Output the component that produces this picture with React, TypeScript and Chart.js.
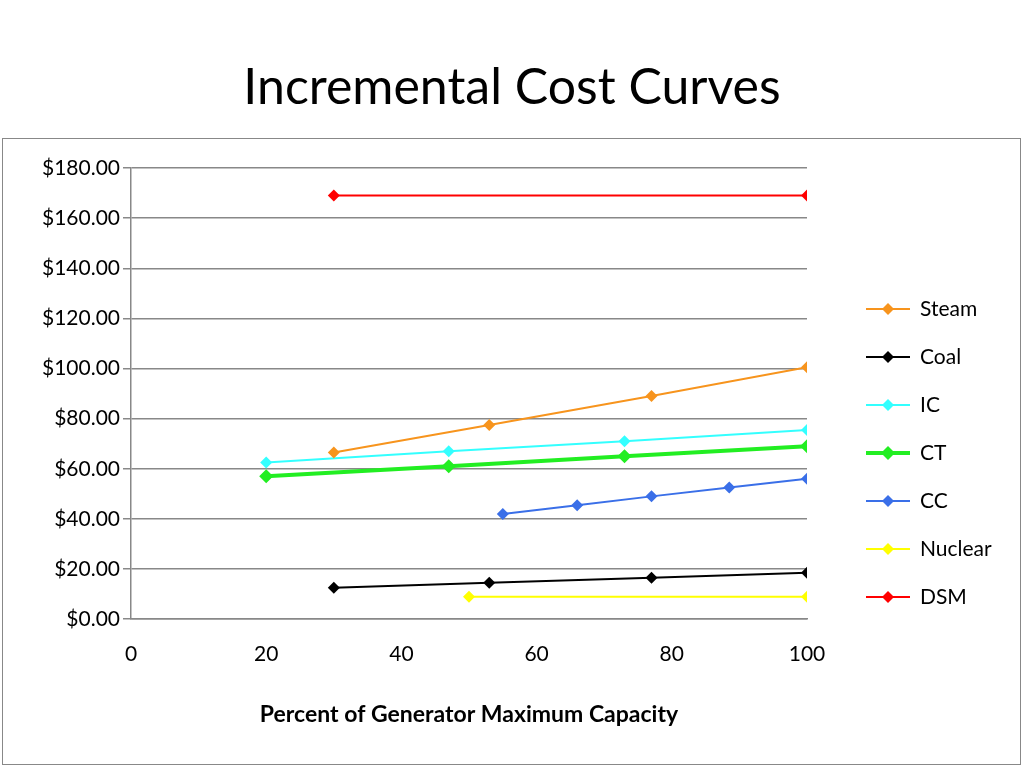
import React, { useEffect, useRef } from "react";
import { Chart, registerables } from "chart.js";
Chart.register(...registerables);

const seriesNames = ["Steam", "Coal", "IC", "CT", "CC", "Nuclear", "DSM"];
const seriesColors = ["#F7941D", "#000000", "#33FFFF", "#22EE22", "#3A6FE8", "#FFFF00", "#FF0000"];
const seriesWidths = [2, 2, 2, 4, 2, 2, 2];
const steamX = [30, 53, 77, 100];
const steamY = [66.5, 77.5, 89, 100.5];
const coalX = [30, 53, 77, 100];
const coalY = [12.5, 14.5, 16.5, 18.5];
const icX = [20, 47, 73, 100];
const icY = [62.5, 67, 71, 75.5];
const ctX = [20, 47, 73, 100];
const ctY = [57, 61, 65, 69];
const ccX = [55, 66, 77, 88.5, 100];
const ccY = [42, 45.5, 49, 52.5, 56];
const nuclearX = [50, 100];
const nuclearY = [9, 9];
const dsmX = [30, 100];
const dsmY = [169, 169];

const allX = [steamX, coalX, icX, ctX, ccX, nuclearX, dsmX];
const allY = [steamY, coalY, icY, ctY, ccY, nuclearY, dsmY];
const FONT = "Lato, 'Liberation Sans', sans-serif";

const legendPlugin = {
  id: "customLegend",
  afterDraw(chart: any) {
    const ctx = chart.ctx;
    ctx.save();
    chart.data.datasets.forEach((ds: any, i: number) => {
      const y = 170 + i * 48;
      const x0 = 863;
      ctx.strokeStyle = ds.borderColor;
      ctx.lineWidth = ds.borderWidth;
      ctx.beginPath();
      ctx.moveTo(x0, y);
      ctx.lineTo(x0 + 44, y);
      ctx.stroke();
      ctx.fillStyle = ds.borderColor;
      const r = ds.pointRadius;
      ctx.beginPath();
      ctx.moveTo(x0 + 22, y - r);
      ctx.lineTo(x0 + 22 + r, y);
      ctx.lineTo(x0 + 22, y + r);
      ctx.lineTo(x0 + 22 - r, y);
      ctx.closePath();
      ctx.fill();
      ctx.fillStyle = "#000";
      ctx.font = `21px ${FONT}`;
      ctx.textBaseline = "middle";
      ctx.fillText(ds.label, x0 + 54, y);
    });
    ctx.restore();
  },
};

export default function App() {
  const ref = useRef<HTMLCanvasElement>(null);
  useEffect(() => {
    document.body.style.margin = "0";
    const chart = new Chart(ref.current!, {
      type: "line",
      data: {
        datasets: seriesNames.map((n, i) => ({
          label: n,
          data: allX[i].map((x, j) => ({ x, y: allY[i][j] })),
          borderColor: seriesColors[i],
          backgroundColor: seriesColors[i],
          borderWidth: seriesWidths[i],
          pointStyle: "rectRot",
          pointRadius: seriesWidths[i] > 2 ? 7 : 6,
          pointBorderWidth: 0,
          tension: 0,
        })),
      },
      options: {
        animation: false,
        responsive: false,
        layout: { padding: { left: 0, top: 29, right: 213, bottom: 32 } },
        plugins: { legend: { display: false }, tooltip: { enabled: false } },
        scales: {
          x: {
            type: "linear",
            min: 0,
            max: 100,
            ticks: { stepSize: 20, font: { size: 21, family: FONT }, color: "#000", padding: 14 },
            grid: { display: false, drawTicks: true, tickLength: 8, color: "#888" },
            border: { color: "#888", width: 1.5 },
            title: {
              display: true,
              text: "Percent of Generator Maximum Capacity",
              font: { size: 23, weight: "bold", family: FONT },
              color: "#000",
              padding: { top: 20 },
            },
          },
          y: {
            min: 0,
            max: 180,
            afterFit: (s: any) => { s.width = 128; },
            ticks: {
              stepSize: 20,
              font: { size: 21, family: FONT },
              color: "#000",
              callback: (v: any) => "$" + Number(v).toFixed(2),
            },
            grid: { color: "#888", lineWidth: 1.5, tickLength: 8 },
            border: { color: "#888", width: 1.5 },
          },
        },
      },
      plugins: [legendPlugin],
    });
    return () => chart.destroy();
  }, []);
  return (
    <div style={{ position: "relative", width: 1024, height: 768, background: "#fff" }}>
      <div style={{ position: "absolute", top: 55, left: 0, width: 1024, textAlign: "center", fontFamily: FONT, fontSize: 50, lineHeight: "60px" }}>
        Incremental Cost Curves
      </div>
      <div style={{ position: "absolute", left: 2, top: 138, width: 1017, height: 625, border: "1.5px solid #888" }}>
        <canvas ref={ref} width={1017} height={625} />
      </div>
    </div>
  );
}
